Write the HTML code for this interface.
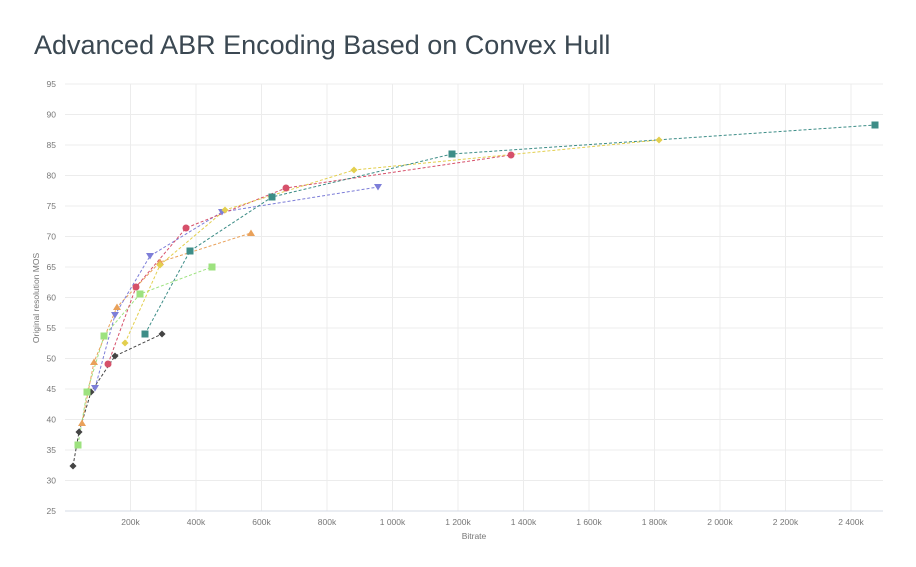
<!DOCTYPE html>
<html><head><meta charset="utf-8"><style>
body{margin:0;background:#fff;width:916px;height:562px;overflow:hidden;font-family:"Liberation Sans",sans-serif}
</style></head><body>
<svg width="916" height="562" xmlns="http://www.w3.org/2000/svg" font-family="Liberation Sans, sans-serif">
<text x="34" y="54" font-size="27" fill="#3b4852">Advanced ABR Encoding Based on Convex Hull</text>
<g stroke="#ececec" stroke-width="1">
<line x1="65" x2="883" y1="84" y2="84"/><line x1="65" x2="883" y1="114.5" y2="114.5"/><line x1="65" x2="883" y1="145" y2="145"/><line x1="65" x2="883" y1="175.5" y2="175.5"/><line x1="65" x2="883" y1="206" y2="206"/><line x1="65" x2="883" y1="236.5" y2="236.5"/><line x1="65" x2="883" y1="267" y2="267"/><line x1="65" x2="883" y1="297.5" y2="297.5"/><line x1="65" x2="883" y1="328" y2="328"/><line x1="65" x2="883" y1="358.5" y2="358.5"/><line x1="65" x2="883" y1="389" y2="389"/><line x1="65" x2="883" y1="419.5" y2="419.5"/><line x1="65" x2="883" y1="450" y2="450"/><line x1="65" x2="883" y1="480.5" y2="480.5"/>
<line x1="130.5" x2="130.5" y1="84" y2="511"/><line x1="196" x2="196" y1="84" y2="511"/><line x1="261.5" x2="261.5" y1="84" y2="511"/><line x1="327" x2="327" y1="84" y2="511"/><line x1="392.5" x2="392.5" y1="84" y2="511"/><line x1="458" x2="458" y1="84" y2="511"/><line x1="523.5" x2="523.5" y1="84" y2="511"/><line x1="589" x2="589" y1="84" y2="511"/><line x1="654.5" x2="654.5" y1="84" y2="511"/><line x1="720" x2="720" y1="84" y2="511"/><line x1="785.5" x2="785.5" y1="84" y2="511"/><line x1="851" x2="851" y1="84" y2="511"/>
</g>
<line x1="65" x2="883" y1="511" y2="511" stroke="#d6dbe6" stroke-width="1"/>
<g font-size="8.5" fill="#777" text-anchor="end">
<text x="56" y="87">95</text><text x="56" y="117.5">90</text><text x="56" y="148">85</text><text x="56" y="178.5">80</text><text x="56" y="209">75</text><text x="56" y="239.5">70</text><text x="56" y="270">65</text><text x="56" y="300.5">60</text><text x="56" y="331">55</text><text x="56" y="361.5">50</text><text x="56" y="392">45</text><text x="56" y="422.5">40</text><text x="56" y="453">35</text><text x="56" y="483.5">30</text><text x="56" y="514">25</text>
</g>
<g font-size="8.5" fill="#777" text-anchor="middle">
<text x="130.5" y="525">200k</text><text x="196" y="525">400k</text><text x="261.5" y="525">600k</text><text x="327" y="525">800k</text><text x="392.5" y="525">1 000k</text><text x="458" y="525">1 200k</text><text x="523.5" y="525">1 400k</text><text x="589" y="525">1 600k</text><text x="654.5" y="525">1 800k</text><text x="720" y="525">2 000k</text><text x="785.5" y="525">2 200k</text><text x="851" y="525">2 400k</text>
<text x="474" y="539">Bitrate</text>
<text transform="translate(39,298) rotate(-90)">Original resolution MOS</text>
</g>
<g fill="none" stroke-width="1" stroke-dasharray="3,2">
<polyline stroke="#444" points="73,466 79,432 91,392 115,356 162,334"/>
<polyline stroke="#9de27f" points="78,445 87,392 104,336 140,294 212,267"/>
<polyline stroke="#e9a15a" points="82,423 94,362 117,307 160,262 251,233"/>
<polyline stroke="#7d7ed8" points="95,388 115,315 150,256 222,212 378,187"/>
<polyline stroke="#d6506a" points="108,364 136,287 186,228 286,188 511,155"/>
<polyline stroke="#e3cf4e" points="125,343 160,265 225,210 354,170 659,140"/>
<polyline stroke="#3d8d87" points="145,334 190,251 272,197 452,154 875,125"/>
</g>
<g fill="#444">
<rect x="70.5" y="463.5" width="5" height="5" transform="rotate(45 73 466)"/><rect x="76.5" y="429.5" width="5" height="5" transform="rotate(45 79 432)"/><rect x="88.5" y="389.5" width="5" height="5" transform="rotate(45 91 392)"/><rect x="112.5" y="353.5" width="5" height="5" transform="rotate(45 115 356)"/><rect x="159.5" y="331.5" width="5" height="5" transform="rotate(45 162 334)"/>
</g>
<g fill="#9de27f">
<rect x="74.5" y="441.5" width="7" height="7"/><rect x="83.5" y="388.5" width="7" height="7"/><rect x="100.5" y="332.5" width="7" height="7"/><rect x="136.5" y="290.5" width="7" height="7"/><rect x="208.5" y="263.5" width="7" height="7"/>
</g>
<g fill="#e9a15a">
<polygon points="82,419.5 86,426 78,426"/><polygon points="94,358.5 98,365 90,365"/><polygon points="117,303.5 121,310 113,310"/><polygon points="160,258.5 164,265 156,265"/><polygon points="251,229.5 255,236 247,236"/>
</g>
<g fill="#7d7ed8">
<polygon points="91,385 99,385 95,391.5"/><polygon points="111,312 119,312 115,318.5"/><polygon points="146,253 154,253 150,259.5"/><polygon points="218,209 226,209 222,215.5"/><polygon points="374,184 382,184 378,190.5"/>
</g>
<g fill="#d6506a">
<circle cx="108" cy="364" r="3.5"/><circle cx="136" cy="287" r="3.5"/><circle cx="186" cy="228" r="3.5"/><circle cx="286" cy="188" r="3.5"/><circle cx="511" cy="155" r="3.5"/>
</g>
<g fill="#e3cf4e">
<rect x="122.5" y="340.5" width="5" height="5" transform="rotate(45 125 343)"/><rect x="157.5" y="262.5" width="5" height="5" transform="rotate(45 160 265)"/><rect x="222.5" y="207.5" width="5" height="5" transform="rotate(45 225 210)"/><rect x="351.5" y="167.5" width="5" height="5" transform="rotate(45 354 170)"/><rect x="656.5" y="137.5" width="5" height="5" transform="rotate(45 659 140)"/>
</g>
<g fill="#3d8d87">
<rect x="141.5" y="330.5" width="7" height="7"/><rect x="186.5" y="247.5" width="7" height="7"/><rect x="268.5" y="193.5" width="7" height="7"/><rect x="448.5" y="150.5" width="7" height="7"/><rect x="871.5" y="121.5" width="7" height="7"/>
</g>
</svg>
</body></html>
